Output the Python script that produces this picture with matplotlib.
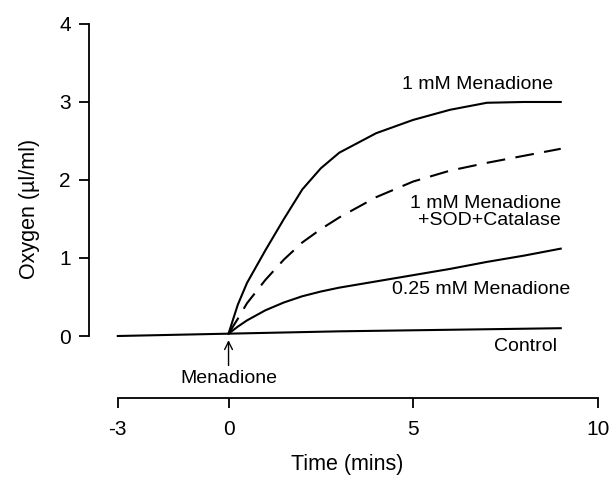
import matplotlib.pyplot as plt

plt.rcParams['font.family'] = ['Liberation Sans', 'DejaVu Sans']
plt.rcParams['axes.unicode_minus'] = False

# time in minutes, menadione added at t=0
t_control = [-3, 0, 3, 6, 9]
control = [0.0, 0.03, 0.06, 0.08, 0.1]

t_treat = [0, 0.25, 0.5, 1, 1.5, 2, 2.5, 3, 4, 5, 6, 7, 8, 9]
mena_1mm = [0.03, 0.4, 0.68, 1.1, 1.5, 1.88, 2.15, 2.35, 2.6, 2.77, 2.9, 2.99, 3.0, 3.0]
mena_sod = [0.03, 0.22, 0.42, 0.72, 0.98, 1.2, 1.37, 1.52, 1.78, 1.98, 2.12, 2.22, 2.31, 2.4]
mena_025 = [0.03, 0.12, 0.2, 0.33, 0.43, 0.51, 0.57, 0.62, 0.7, 0.78, 0.86, 0.95, 1.03, 1.12]

fig = plt.figure(figsize=(6.13, 4.78), dpi=100)
ax = fig.add_axes([0.1452, 0.1665, 0.987 - 0.1452, 0.958 - 0.1665])

lw = 1.5
ax.plot(t_control, control, color='black', lw=lw)
ax.plot(t_treat, mena_1mm, color='black', lw=lw)
ax.plot(t_treat, mena_sod, color='black', lw=lw, dashes=(9, 5))
ax.plot(t_treat, mena_025, color='black', lw=lw)

ax.set_xlim(-3.78, 10.2)
ax.set_ylim(-0.8, 4.05)

ax.spines['top'].set_visible(False)
ax.spines['right'].set_visible(False)
ax.spines['left'].set_bounds(0, 4)
ax.spines['bottom'].set_bounds(-3, 10)
ax.spines['bottom'].set_position(('data', -0.79))
ax.spines['left'].set_linewidth(1.3)
ax.spines['bottom'].set_linewidth(1.3)

ax.set_xticks([-3, 0, 5, 10])
ax.set_yticks([0, 1, 2, 3, 4])
ax.tick_params(length=7, width=1.3, labelsize=15, pad=6)
ax.tick_params(axis='x', pad=9)

ax.set_xlabel('Time (mins)', fontsize=15.5, labelpad=11)
ax.set_ylabel('Oxygen (\u00b5l/ml)', fontsize=15.5, labelpad=14)

fs = 14
ax.text(8.8, 3.22, '1 mM Menadione', ha='right', va='center', fontsize=fs)
ax.text(9.0, 1.59, '1 mM Menadione\n+SOD+Catalase', ha='right', va='center',
        fontsize=fs, multialignment='right', linespacing=1.05)
ax.text(9.25, 0.59, '0.25 mM Menadione', ha='right', va='center', fontsize=fs)
ax.text(8.9, -0.14, 'Control', ha='right', va='center', fontsize=fs)

ax.annotate('Menadione', xy=(0, 0.0), xytext=(0, -0.54), ha='center', va='center',
            fontsize=fs,
            arrowprops=dict(arrowstyle='->', color='black', lw=1.0,
                            shrinkA=1, shrinkB=3))

fig.savefig('out.png', dpi=100)
